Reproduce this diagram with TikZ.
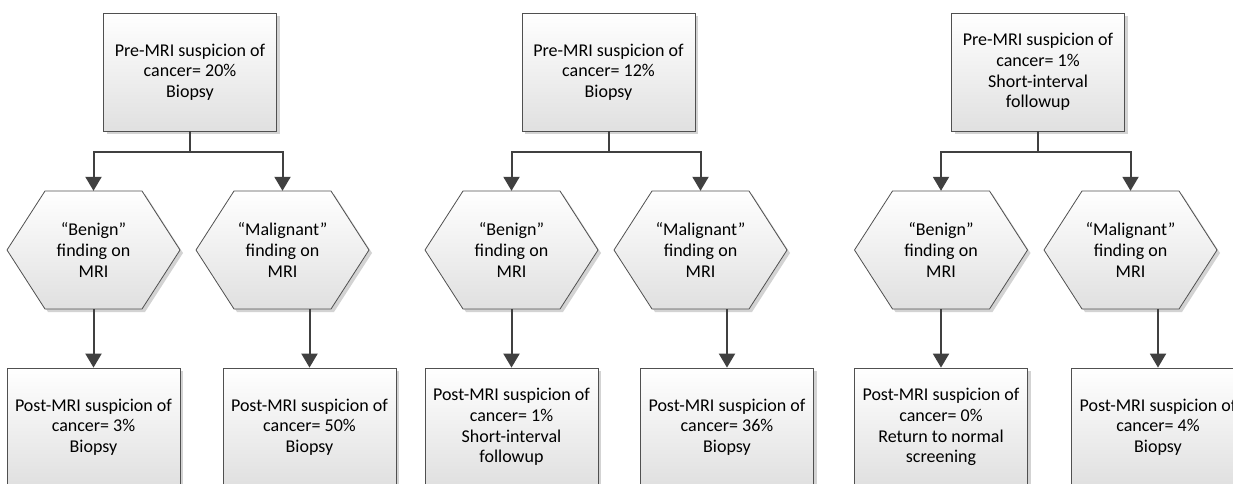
\documentclass[tikz,border=0pt]{standalone}
\usepackage{fontspec}
\setmainfont{Carlito}
\usetikzlibrary{arrows.meta,shadows}
\definecolor{linegray}{HTML}{404040}
\definecolor{edgegray}{HTML}{505050}
\definecolor{shadegray}{HTML}{E0E0E0}
\definecolor{shadowgray}{HTML}{C8C8C8}
\tikzset{
  txt/.style={font=\fontsize{18}{20.7}\selectfont, align=center, text=black},
  boxnode/.style={txt, rectangle, draw=edgegray, line width=0.8pt, top color=white, bottom color=shadegray,
    minimum width=173pt, minimum height=118pt, inner sep=0pt,
    drop shadow={shadow xshift=3pt, shadow yshift=-3pt, fill=shadowgray, opacity=0.8}},
  hexbody/.style={draw=edgegray, line width=0.8pt, top color=white, bottom color=shadegray,
    drop shadow={shadow xshift=3pt, shadow yshift=-3pt, fill=shadowgray, opacity=0.8}},
  hextext/.style={txt, rectangle, minimum width=173pt, minimum height=118pt, inner sep=0pt},
  conn/.style={draw=linegray, line width=2pt, -{Triangle[length=14pt,width=16pt]}},
  stem/.style={draw=linegray, line width=2pt}
}
\newcommand{\hexat}[4]{%
  \path[hexbody] (#2-86.5,#3) -- (#2-48.5,#3-59) -- (#2+48.5,#3-59) -- (#2+86.5,#3)
    -- (#2+48.5,#3+59) -- (#2-48.5,#3+59) -- cycle;
  \node[hextext] (#1) at (#2,#3) {#4};}
\begin{document}
\begin{tikzpicture}[x=1pt,y=-1pt]
\useasboundingbox (0,0) rectangle (1233,483);
\fill[white] (0,0) rectangle (1233,483);
\clip (0,0) rectangle (1233,483);

% Panel 1
\node[boxnode] (t1) at (190,72) {Pre-MRI suspicion of\\cancer= 20\%\\Biopsy};
\hexat{b1}{93.5}{250}{“Benign”\\finding on\\MRI}
\hexat{m1}{282.5}{250}{“Malignant”\\finding on\\MRI}
\node[boxnode] (pb1) at (93.5,427) {Post-MRI suspicion of\\cancer= 3\%\\Biopsy};
\node[boxnode] (pm1) at (309.5,427) {Post-MRI suspicion of\\cancer= 50\%\\Biopsy};
\draw[stem] (t1.south) -- ++(0,21) coordinate (j1);
\draw[conn] (j1) -| (b1.north);
\draw[conn] (j1) -| (m1.north);
\draw[conn] (b1.south) -- (pb1.north);
\draw[conn] (m1.south -| pm1.north) -- (pm1.north);

% Panel 2
\node[boxnode] (t2) at (608.5,72) {Pre-MRI suspicion of\\cancer= 12\%\\Biopsy};
\hexat{b2}{511.5}{250}{“Benign”\\finding on\\MRI}
\hexat{m2}{700.5}{250}{“Malignant”\\finding on\\MRI}
\node[boxnode] (pb2) at (511.5,427) {Post-MRI suspicion of\\cancer= 1\%\\Short-interval\\followup};
\node[boxnode] (pm2) at (727,427) {Post-MRI suspicion of\\cancer= 36\%\\Biopsy};
\draw[stem] (t2.south) -- ++(0,21) coordinate (j2);
\draw[conn] (j2) -| (b2.north);
\draw[conn] (j2) -| (m2.north);
\draw[conn] (b2.south) -- (pb2.north);
\draw[conn] (m2.south -| pm2.north) -- (pm2.north);

% Panel 3
\node[boxnode] (t3) at (1038,72) {Pre-MRI suspicion of\\cancer= 1\%\\Short-interval\\followup};
\hexat{b3}{941}{250}{“Benign”\\finding on\\MRI}
\hexat{m3}{1130.5}{250}{“Malignant”\\finding on\\MRI}
\node[boxnode] (pb3) at (941,427) {Post-MRI suspicion of\\cancer= 0\%\\Return to normal\\screening};
\node[boxnode] (pm3) at (1158,427) {Post-MRI suspicion of\\cancer= 4\%\\Biopsy};
\draw[stem] (t3.south) -- ++(0,21) coordinate (j3);
\draw[conn] (j3) -| (b3.north);
\draw[conn] (j3) -| (m3.north);
\draw[conn] (b3.south) -- (pb3.north);
\draw[conn] (m3.south -| pm3.north) -- (pm3.north);
\end{tikzpicture}
\end{document}
